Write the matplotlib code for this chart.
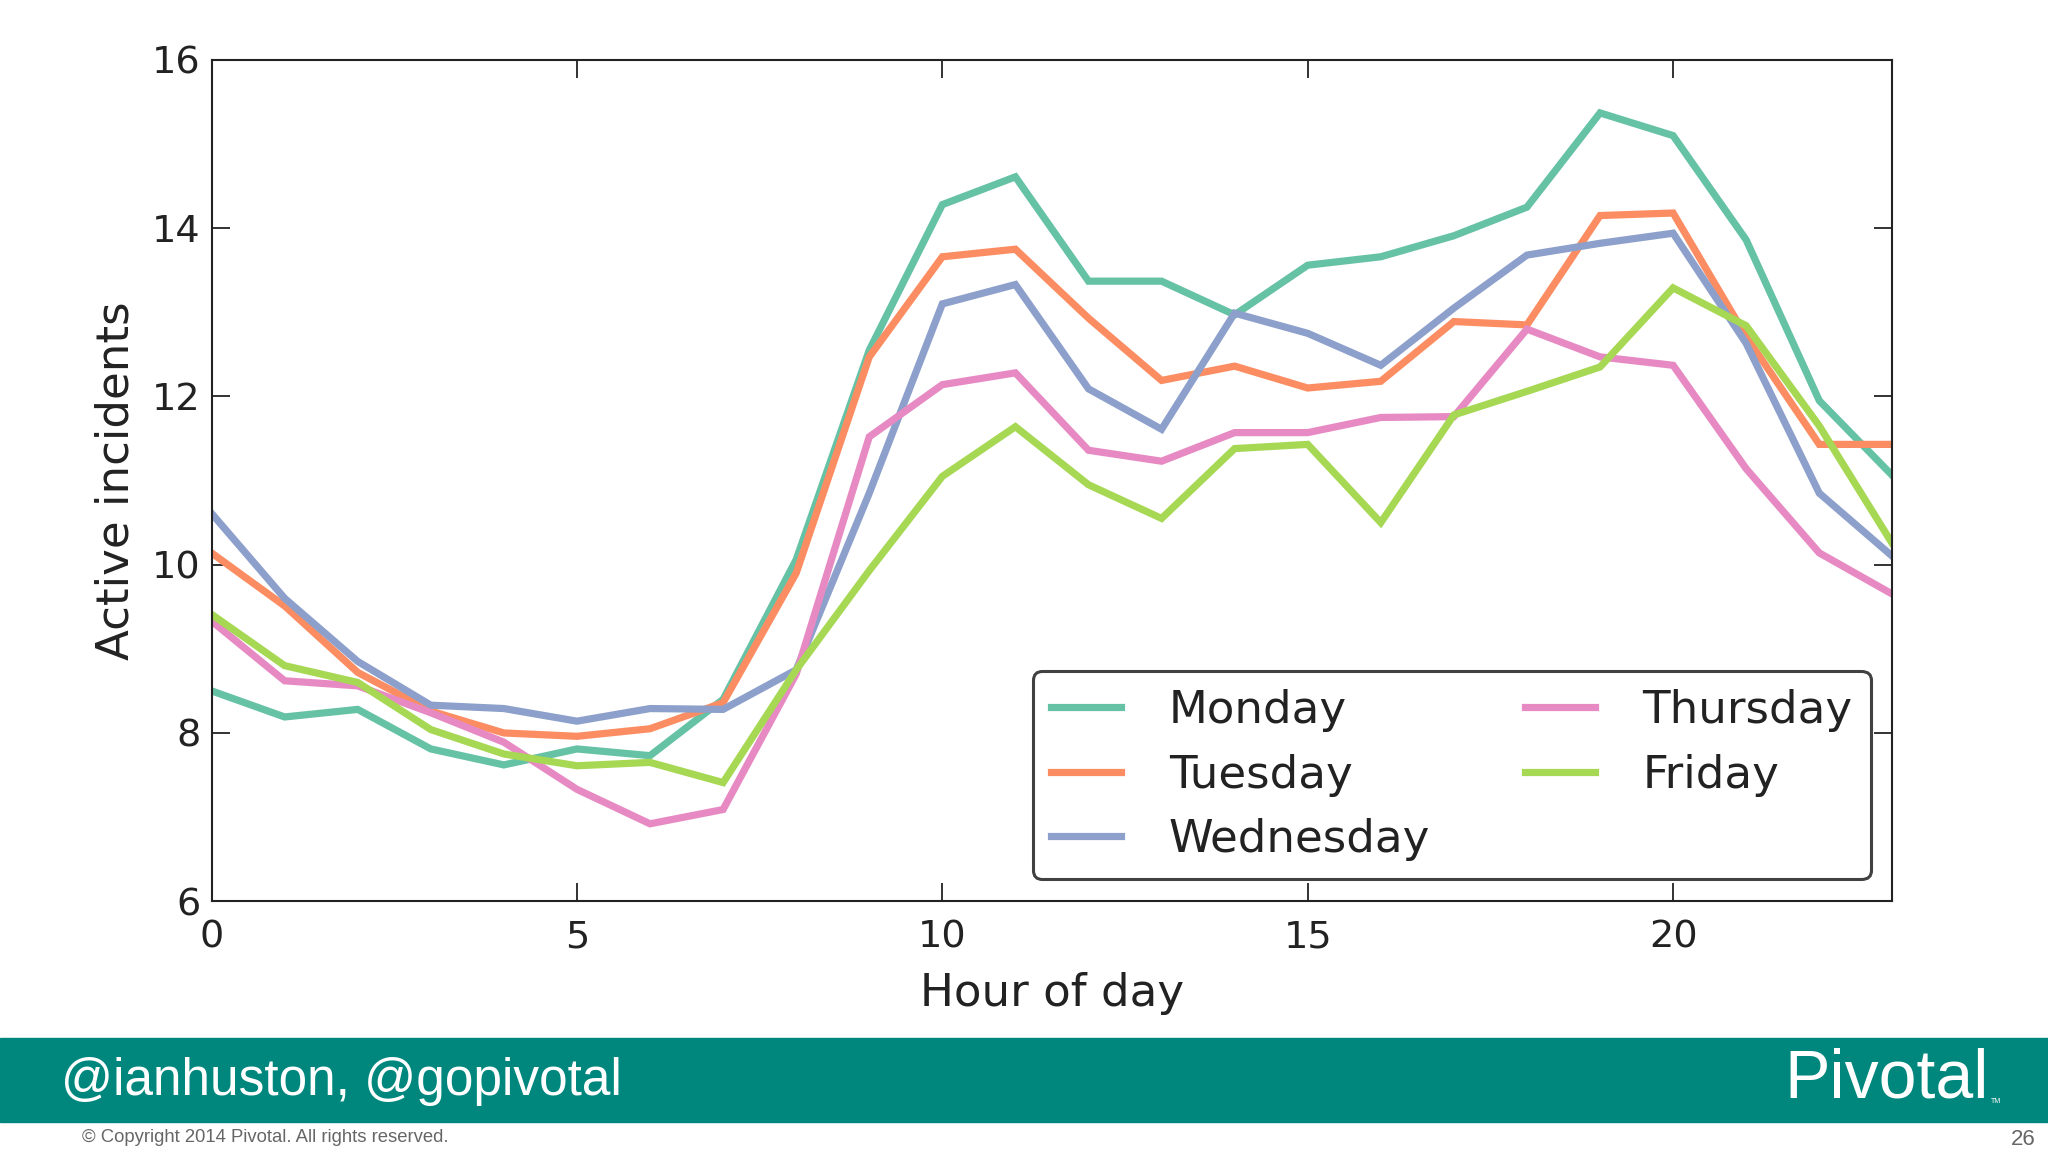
import matplotlib
matplotlib.use("Agg")
import matplotlib.pyplot as plt
from matplotlib.patches import Rectangle

hours = list(range(24))
monday = [8.50, 8.19, 8.28, 7.81, 7.62, 7.81, 7.73, 8.40, 10.06, 12.55, 14.28, 14.61,
          13.37, 13.37, 12.97, 13.56, 13.66, 13.91, 14.25, 15.37, 15.10, 13.86, 11.95, 11.06]
tuesday = [10.14, 9.51, 8.72, 8.26, 8.00, 7.96, 8.05, 8.36, 9.90, 12.47, 13.66, 13.75,
           12.93, 12.19, 12.36, 12.10, 12.18, 12.89, 12.85, 14.15, 14.18, 12.71, 11.43, 11.43]
wednesday = [10.61, 9.60, 8.85, 8.33, 8.29, 8.14, 8.29, 8.28, 8.75, 10.85, 13.10, 13.33,
             12.09, 11.61, 12.99, 12.75, 12.37, 13.05, 13.68, 13.82, 13.94, 12.63, 10.85, 10.10]
thursday = [9.33, 8.62, 8.56, 8.24, 7.89, 7.33, 6.92, 7.09, 8.70, 11.52, 12.14, 12.28,
            11.36, 11.23, 11.57, 11.57, 11.75, 11.76, 12.80, 12.47, 12.37, 11.14, 10.14, 9.65]
friday = [9.41, 8.80, 8.60, 8.04, 7.75, 7.61, 7.65, 7.41, 8.75, 9.93, 11.05, 11.64,
          10.95, 10.55, 11.38, 11.43, 10.50, 11.78, 12.06, 12.35, 13.29, 12.84, 11.65, 10.25]

days = ["Monday", "Tuesday", "Wednesday", "Thursday", "Friday"]
series = [monday, tuesday, wednesday, thursday, friday]
colors = ["#66c2a5", "#fc8d62", "#8da0cb", "#e78ac3", "#a6d854"]

xticks = [0, 5, 10, 15, 20]
yticks = [6, 8, 10, 12, 14, 16]

plt.rcParams['font.family'] = ['DejaVu Sans']

fig = plt.figure(figsize=(20.48, 11.52), dpi=100)
ax = fig.add_axes([0.1033, 0.2177, 0.8207, 0.7303])

for name, vals, c in zip(days, series, colors):
    ax.plot(hours, vals, color=c, lw=5.2, label=name, solid_joinstyle='miter')

ax.set_xlim(0, 23)
ax.set_ylim(6, 16)
ax.set_xticks(xticks)
ax.set_yticks(yticks)
ax.tick_params(direction='in', length=13, width=1.3, top=True, right=True,
               labelsize=27.5, colors='#222222', labelcolor='#222222')
ax.tick_params(axis='x', pad=13)
ax.tick_params(axis='y', pad=8)
for s in ax.spines.values():
    s.set_linewidth(1.5)
    s.set_color('#222222')

ax.set_xlabel("Hour of day", fontsize=32.5, color='#222222', labelpad=12)
ax.set_ylabel("Active incidents", fontsize=32.5, color='#222222', labelpad=10)

leg = ax.legend(ncol=2, loc='lower right', bbox_to_anchor=(0.987, 0.026),
                fontsize=32.5, frameon=True, fancybox=True, handlelength=1.55,
                handletextpad=1.05, columnspacing=2.1, labelspacing=0.48,
                borderpad=0.4, borderaxespad=0.0)
leg.get_frame().set_edgecolor('#111111')
leg.get_frame().set_linewidth(2.2)
for t in leg.get_texts():
    t.set_color('#222222')

# footer band
fig.patches.append(Rectangle((0, 0.026), 1, 0.073, transform=fig.transFigure,
                             color='#00877d', zorder=0))
fig.text(0.03, 0.0615, "@ianhuston, @gopivotal", color='white', fontsize=37,
         family='Liberation Sans', va='center', ha='left')
fig.text(0.971, 0.0625, "Pivotal", color='white', fontsize=49,
         family='Liberation Sans', va='center', ha='right')
fig.text(0.972, 0.044, "TM", color='white', fontsize=5,
         family='Liberation Sans', va='center', ha='left')
fig.text(0.04, 0.013, "\u00a9 Copyright 2014 Pivotal. All rights reserved.",
         color='#666666', fontsize=13.3, family='Liberation Sans', va='center', ha='left')
fig.text(0.994, 0.011, "26", color='#666666', fontsize=16,
         family='Liberation Sans', va='center', ha='right')

fig.savefig("out.png", dpi=100)
